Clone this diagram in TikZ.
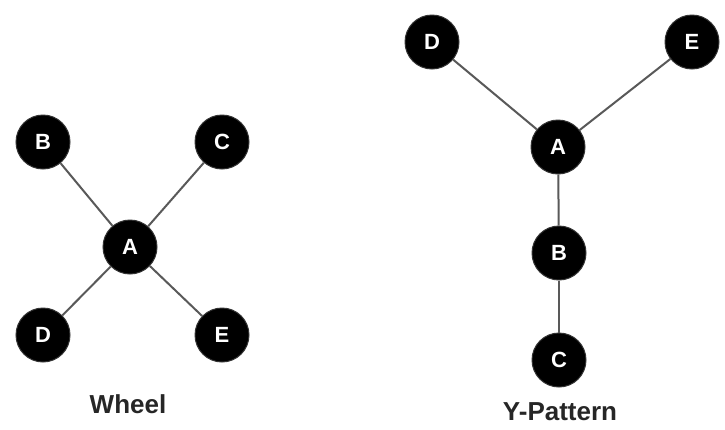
\documentclass[tikz,border=0pt]{standalone}
\usepackage{fontspec}
\setmainfont{Liberation Sans}
\begin{document}
\begin{tikzpicture}[x=1pt,y=-1pt,
  vtx/.style={circle,fill=black,draw=black!80,line width=1pt,minimum size=54pt,inner sep=0pt,text=white,font=\fontsize{22}{22}\selectfont\bfseries},
  edge/.style={draw=black!65,line width=2pt},
  lbl/.style={font=\fontsize{26}{26}\selectfont\bfseries, text=black!85}]
\useasboundingbox (0,0) rectangle (725,429);
% Wheel
\node[vtx] (wA) at (130,247) {A};
\node[vtx] (wB) at (43,142) {B};
\node[vtx] (wC) at (222,142) {C};
\node[vtx] (wD) at (43,335) {D};
\node[vtx] (wE) at (222,335) {E};
\draw[edge] (wA) -- (wB);
\draw[edge] (wA) -- (wC);
\draw[edge] (wA) -- (wD);
\draw[edge] (wA) -- (wE);
\node[lbl] (wl) at (128,404) {Wheel};
% Y-Pattern
\node[vtx] (yD) at (432,42) {D};
\node[vtx] (yE) at (692,42) {E};
\node[vtx] (yA) at (558,147) {A};
\node[vtx] (yB) at (559,253) {B};
\node[vtx] (yC) at (559,360) {C};
\draw[edge] (yA) -- (yD);
\draw[edge] (yA) -- (yE);
\draw[edge] (yA) -- (yB);
\draw[edge] (yB) -- (yC);
\node[lbl] (yl) at (560,412) {Y-Pattern};
\end{tikzpicture}
\end{document}
